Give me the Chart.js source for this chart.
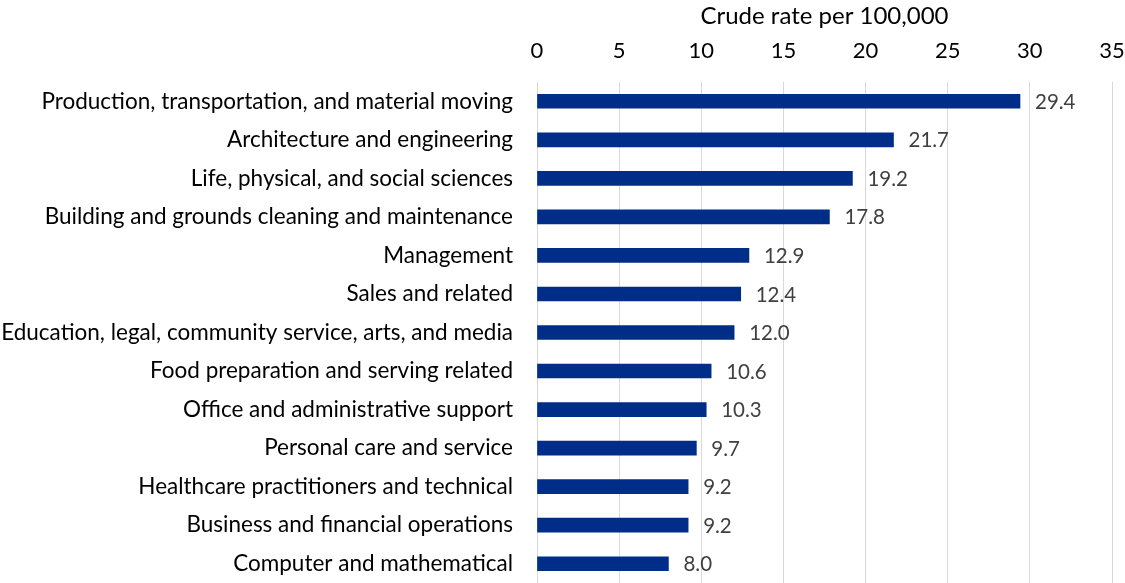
<!DOCTYPE html>
<html>
<head>
<meta charset="utf-8">
<script src="https://cdn.jsdelivr.net/npm/chart.js@4"></script>
<style>
  html, body { margin: 0; padding: 0; background: #fff; }
  #chart { display: block; }
</style>
</head>
<body>
<canvas id="chart" width="1125" height="583"></canvas>
<script>
const categories = [
  "Production, transportation, and material moving",
  "Architecture and engineering",
  "Life, physical, and social sciences",
  "Building and grounds cleaning and maintenance",
  "Management",
  "Sales and related",
  "Education, legal, community service, arts, and media",
  "Food preparation and serving related",
  "Office and administrative support",
  "Personal care and service",
  "Healthcare practitioners and technical",
  "Business and financial operations",
  "Computer and mathematical",
];
const rates = [29.4, 21.7, 19.2, 17.8, 12.9, 12.4, 12.0, 10.6, 10.3, 9.7, 9.2, 9.2, 8.0];
const axisTitle = "Crude rate per 100,000";

const FONT = "Lato, 'Open Sans', sans-serif";

// draws the value next to each bar end
const valueLabels = {
  id: "valueLabels",
  afterDatasetsDraw(chart) {
    const { ctx } = chart;
    const meta = chart.getDatasetMeta(0);
    ctx.save();
    ctx.font = "20.5px " + FONT;
    ctx.fillStyle = "#404040";
    ctx.textAlign = "left";
    ctx.textBaseline = "middle";
    meta.data.forEach((bar, i) => {
      ctx.fillText(rates[i].toFixed(1), bar.x + 15, bar.y + 1);
    });
    ctx.restore();
  },
};

new Chart(document.getElementById("chart").getContext("2d"), {
  type: "bar",
  data: {
    labels: categories,
    datasets: [
      {
        data: rates,
        backgroundColor: "#002D88",
        borderWidth: 0,
        barThickness: 14,
      },
    ],
  },
  options: {
    indexAxis: "y",
    responsive: false,
    animation: false,
    layout: { padding: 0 },
    plugins: {
      legend: { display: false },
      tooltip: { enabled: false },
    },
    scales: {
      x: {
        position: "top",
        min: 0,
        max: 35,
        ticks: {
          stepSize: 5,
          color: "#000",
          font: { family: FONT, size: 22 },
          padding: 18,
        },
        grid: { color: "#d9d9d9", lineWidth: 1, drawTicks: false },
        border: { display: false },
        title: {
          display: true,
          text: axisTitle,
          color: "#000",
          font: { family: FONT, size: 24 },
          padding: { top: 2, bottom: 0 },
        },
        afterFit(scale) {
          scale.height = 82;
          scale.paddingLeft = 0;
          scale.paddingRight = 13;
        },
      },
      y: {
        ticks: {
          color: "#000",
          font: { family: FONT, size: 22.5 },
          padding: 24,
        },
        grid: { display: false, drawTicks: false },
        border: { display: false },
        afterFit(scale) {
          scale.width = 537;
          scale.paddingTop = 0;
          scale.paddingBottom = 0;
        },
      },
    },
  },
  plugins: [valueLabels],
});
</script>
</body>
</html>
